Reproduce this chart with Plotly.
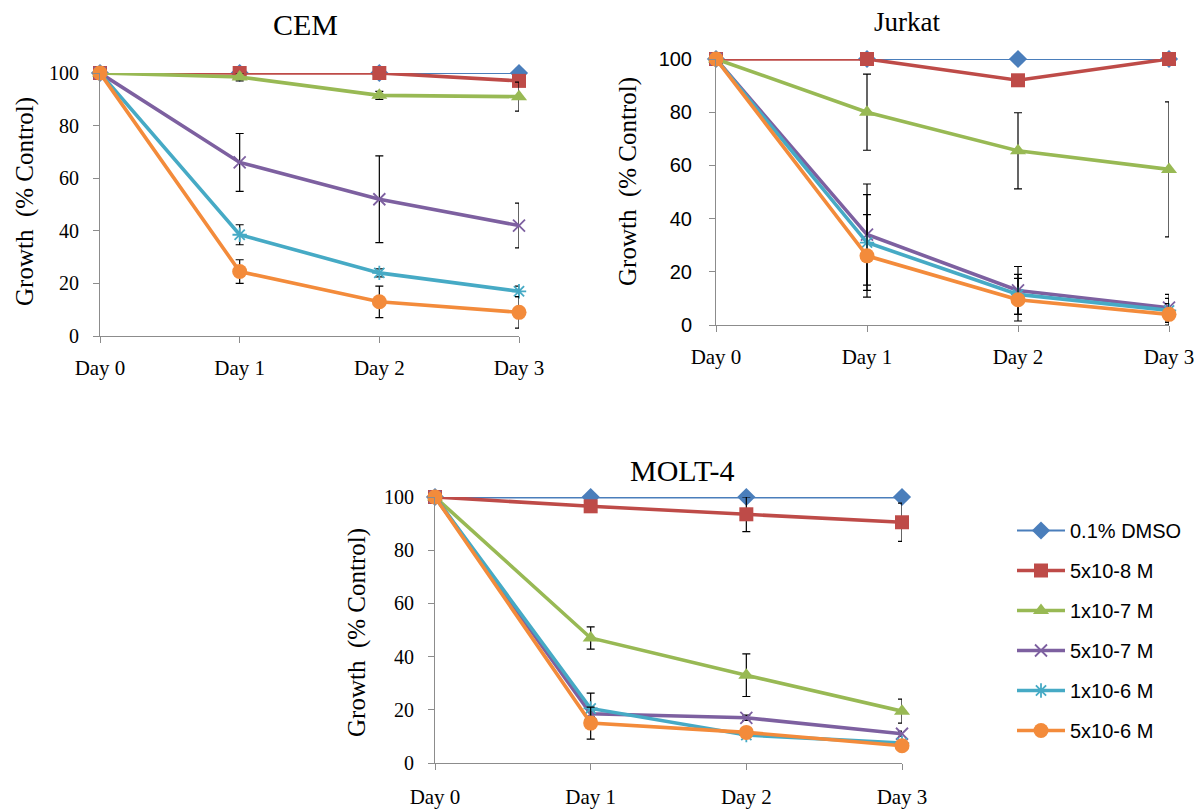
import plotly.graph_objects as go

days = ["Day 0", "Day 1", "Day 2", "Day 3"]
day_pos = [0, 1, 2, 3]
series_names = ["0.1% DMSO", "5x10-8 M", "1x10-7 M", "5x10-7 M", "1x10-6 M", "5x10-6 M"]

# CEM
cem_dmso = [100, 100, 100, 100]
cem_5e8 = [100, 100, 100, 97]
cem_1e7 = [100, 98.5, 91.5, 91]
cem_5e7 = [100, 66, 52, 42]
cem_1e6 = [100, 38.5, 24, 17]
cem_5e6 = [100, 24.5, 13, 9]
cem_err_dmso = [0, 0, 0, 0]
cem_err_5e8 = [0, 0.5, 0.5, 2]
cem_err_1e7 = [0, 1.5, 1.5, 5.5]
cem_err_5e7 = [0, 11, 16.5, 8.5]
cem_err_1e6 = [0, 3.8, 1.5, 2]
cem_err_5e6 = [0, 4.5, 6, 6]

# Jurkat
jur_dmso = [100, 100, 100, 100]
jur_5e8 = [100, 100, 92, 100]
jur_1e7 = [100, 80, 65.5, 58.5]
jur_5e7 = [100, 34, 13, 6.5]
jur_1e6 = [100, 31, 11.5, 5.5]
jur_5e6 = [100, 26, 9.5, 4]
jur_err_dmso = [0, 0, 0, 0]
jur_err_5e8 = [0, 0, 0, 0]
jur_err_1e7 = [0, 14.3, 14.3, 25.4]
jur_err_5e7 = [0, 19, 9, 5]
jur_err_1e6 = [0, 18, 7.5, 4.5]
jur_err_5e6 = [0, 15.5, 8, 4]

# MOLT-4
molt_dmso = [100, 100, 100, 100]
molt_5e8 = [100, 96.5, 93.5, 90.5]
molt_1e7 = [100, 47, 33, 19.5]
molt_5e7 = [100, 18.5, 17, 11]
molt_1e6 = [100, 20.5, 10.5, 7.5]
molt_5e6 = [100, 15, 11.5, 6.5]
molt_err_dmso = [0, 0, 0, 0]
molt_err_5e8 = [0, 1, 6.5, 7.2]
molt_err_1e7 = [0, 4.2, 8, 4.5]
molt_err_5e7 = [0, 1, 1, 1]
molt_err_1e6 = [0, 5.8, 1, 1]
molt_err_5e6 = [0, 6, 1, 1]

colors = ["#4A7EBB", "#BE4B48", "#98B954", "#7D60A0", "#46AAC5", "#F38B3B"]
symbols = ["diamond", "square", "triangle-up", "x-thin", "asterisk", "circle"]
msizes = [14, 14, 14, 12, 12, 15]
lwidths = [2.2, 3.6, 3.6, 3.6, 3.6, 3.6]

panels = [
    ("x", "y", [cem_dmso, cem_5e8, cem_1e7, cem_5e7, cem_1e6, cem_5e6],
     [cem_err_dmso, cem_err_5e8, cem_err_1e7, cem_err_5e7, cem_err_1e6, cem_err_5e6]),
    ("x2", "y2", [jur_dmso, jur_5e8, jur_1e7, jur_5e7, jur_1e6, jur_5e6],
     [jur_err_dmso, jur_err_5e8, jur_err_1e7, jur_err_5e7, jur_err_1e6, jur_err_5e6]),
    ("x3", "y3", [molt_dmso, molt_5e8, molt_1e7, molt_5e7, molt_1e6, molt_5e6],
     [molt_err_dmso, molt_err_5e8, molt_err_1e7, molt_err_5e7, molt_err_1e6, molt_err_5e6]),
]

fig = go.Figure()
for pi, (xa, ya, vals, errs) in enumerate(panels):
    for i, name in enumerate(series_names):
        lw = lwidths[i]
        if pi == 2 and i == 0:
            lw = 3
        line_marker = symbols[i] in ("x-thin", "asterisk")
        fig.add_trace(go.Scatter(
            x=day_pos, y=vals[i], name=name, xaxis=xa, yaxis=ya,
            mode="lines+markers",
            line=dict(color=colors[i], width=lw),
            marker=dict(symbol=symbols[i], size=msizes[i], color=colors[i],
                        line=dict(color=colors[i], width=1.8 if line_marker else 0)),
            error_y=dict(type="data", array=errs[i], visible=True,
                         color="black", thickness=1.2, width=4),
            cliponaxis=False,
            showlegend=(pi == 0),
            legendgroup=name,
        ))

serif = "Liberation Serif"
sans = "Liberation Sans"

# page has an 8px body margin: figure is placed at (8, 8) in the window
OFF = 8
W, H = 1202 - OFF, 809 - OFF

def px(x):
    return (x - OFF) / W

def py(y):
    return 1 - (y - OFF) / H

def xax(domain, anchor, standoff):
    return dict(domain=domain, anchor=anchor, range=[0, 3], tickmode="array",
                tickvals=day_pos, ticktext=days, showline=True, linecolor="#8c8c8c",
                linewidth=1, ticks="outside", ticklen=6, tickcolor="#8c8c8c",
                showgrid=False, zeroline=False, ticklabelstandoff=standoff,
                automargin=False,
                tickfont=dict(family=serif, size=21, color="black"))

def yax(domain, anchor, font, standoff):
    return dict(domain=domain, anchor=anchor, range=[0, 100], tickvals=[0, 20, 40, 60, 80, 100],
                showline=True, linecolor="#8c8c8c", linewidth=1, ticks="outside",
                ticklen=6, tickcolor="#8c8c8c", showgrid=False, zeroline=False,
                automargin=False,
                ticklabelstandoff=standoff, tickfont=font)

fig.update_layout(
    width=W, height=H, autosize=False,
    margin=dict(l=0, r=0, t=0, b=0, pad=0),
    paper_bgcolor="white", plot_bgcolor="white",
    xaxis=xax([px(100), px(519)], "y", 7),
    yaxis=yax([py(336), py(73)], "x", dict(family=serif, size=20, color="black"), 10),
    xaxis2=xax([px(716), px(1169)], "y2", 7),
    yaxis2=yax([py(325), py(59)], "x2", dict(family=sans, size=20, color="black"), 13),
    xaxis3=xax([px(435), px(902)], "y3", 9),
    yaxis3=yax([py(763), py(497)], "x3", dict(family=serif, size=20, color="black"), 10),
    legend=dict(x=px(1012), y=py(511), xanchor="left", yanchor="top",
                font=dict(family=sans, size=20, color="black"),
                tracegroupgap=11, itemwidth=48, bgcolor="rgba(0,0,0,0)"),
    showlegend=True,
)

ann = []
for txt, x, y, size in [("CEM", 305, 24, 30), ("Jurkat", 907, 22, 27), ("MOLT-4", 682, 470, 30)]:
    ann.append(dict(text=txt, x=px(x), y=py(y), xref="paper", yref="paper",
                    xanchor="center", yanchor="middle", showarrow=False,
                    font=dict(family=serif, size=size, color="black")))
for x, y in [(25, 202), (628, 182), (357, 633)]:
    ann.append(dict(text="Growth\u00a0 (% Control)", x=px(x), y=py(y), xref="paper", yref="paper",
                    xanchor="center", yanchor="middle", showarrow=False, textangle=-90,
                    font=dict(family=serif, size=25, color="black")))
fig.update_layout(annotations=ann)

fig.write_html("out.html")
